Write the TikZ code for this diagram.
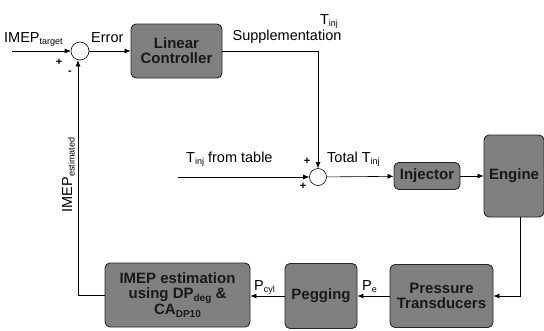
\documentclass[tikz,border=0pt]{standalone}
\usepackage{fontspec}
\setmainfont{Liberation Sans}
\usetikzlibrary{arrows.meta}
\newcommand\sbs[1]{\raisebox{-2.5pt}{\fontsize{9}{9}\selectfont #1}}
\newcommand\sbb[1]{\raisebox{-2.5pt}{\fontsize{10}{10}\selectfont #1}}
\begin{document}
\begin{tikzpicture}[x=1pt,y=-1pt,
  blk/.style={draw=black!85, line width=0.9pt, fill=black!50, rounded corners=5pt, inner sep=0pt, align=center, font=\fontsize{15}{15}\selectfont\bfseries, text=black!90},
  sumj/.style={draw, circle, minimum size=18pt, inner sep=0pt, line width=0.6pt, fill=white},
  lbl/.style={font=\fontsize{14.5}{14.5}\selectfont, inner sep=0pt},
  sgn/.style={font=\fontsize{11}{11}\selectfont\bfseries, inner sep=0pt},
  arr/.style={-{Latex[length=6pt,width=5pt]}, line width=0.6pt},
  ln/.style={line width=0.6pt}]
\useasboundingbox (0,0) rectangle (544,330);
% blocks
\node[blk, minimum width=91pt, minimum height=54pt] (lc) at (176.5,51) {Linear\\Controller};
\node[sumj] (s1) at (80,51) {};
\node[sumj, minimum size=17pt] (s2) at (318,177) {};
\node[blk, minimum width=66pt, minimum height=27pt] (inj) at (427,176) {Injector};
\node[blk, minimum width=60pt, minimum height=82pt] (eng) at (514,176) {Engine};
\node[blk, minimum width=103pt, minimum height=63pt] (pt) at (441.5,296) {Pressure\\Transducers};
\node[blk, minimum width=72pt, minimum height=65pt] (peg) at (321,296) {Pegging};
\node[blk, minimum width=145pt, minimum height=64pt] (est) at (177.5,295) {IMEP estimation\\using DP\sbb{deg} \&\\CA\sbb{DP10}};
% coordinates
\coordinate (in1) at (12,51);
\coordinate (in2) at (178,177);
\coordinate (c1) at (318,51);
\coordinate (c2) at (520,296);
\coordinate (c3) at (78,295);
% connectors
\draw[arr] (in1) -- (s1);
\draw[arr] (s1) -- (lc);
\draw[ln] (lc.east |- c1) -- (c1);
\draw[arr] (c1) -- (s2);
\draw[arr] (in2) -- (s2);
\draw[arr] (s2) -- (inj);
\draw[arr] (inj) -- (eng.west |- inj);
\draw[arr] (eng.south -| c2) -- (c2) -- (pt.east |- c2);
\draw[arr] (pt.west |- c2) -- (peg.east |- c2);
\draw[arr] (peg.west |- c2) -- (est.east |- c2);
\draw[arr] (est.west |- c3) -- (c3) -- (s1.south -| c3);
% labels
\node[lbl, anchor=base west] (l1) at (4,42) {IMEP\sbs{target}};
\node[sgn] (p1) at (59,62) {+};
\node[sgn] (m1) at (70,73) {-};
\node[lbl, anchor=base west] (l2) at (91,42) {Error};
\node[lbl, anchor=base] (l3) at (329,24) {T\sbs{inj}};
\node[lbl, anchor=base] (l4) at (287,40) {Supplementation};
\node[lbl, anchor=base west] (l5) at (186,162) {T\sbs{inj} from table};
\node[sgn] (p2) at (307,161) {+};
\node[sgn] (p3) at (303,186) {+};
\node[lbl, anchor=base west] (l6) at (327,162) {Total T\sbs{inj}};
\node[lbl, anchor=base west] (l7) at (362,290) {P\sbs{e}};
\node[lbl, anchor=base west] (l8) at (254,290) {P\sbs{cyl}};
\node[lbl, rotate=90, anchor=base] (l9) at (72,175) {IMEP\sbs{estimated}};
\end{tikzpicture}
\end{document}
